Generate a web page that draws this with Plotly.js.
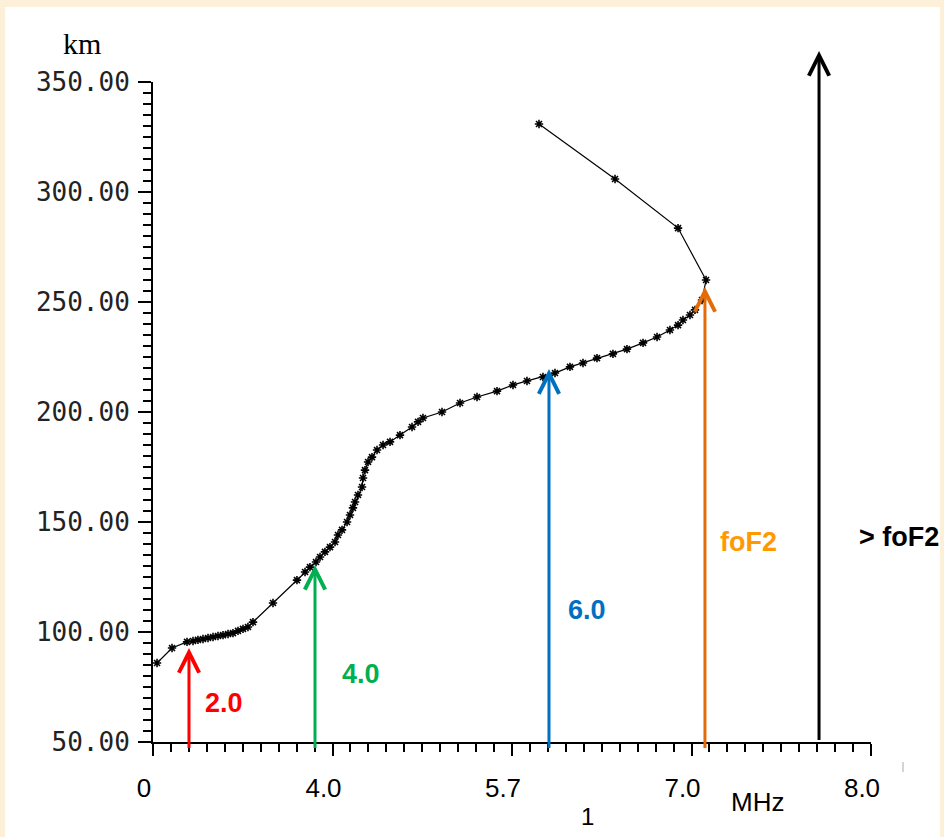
<!DOCTYPE html>
<html>
<head>
<meta charset="utf-8">
<script src="https://cdn.plot.ly/plotly-3.0.1.min.js"></script>
<style>html,body{margin:0;padding:0;background:#fcf0d9;}#chart{width:944px;height:837px;}</style>
</head>
<body>
<div id="chart"></div>
<script>
// Electron density profile (plasma frequency axis units, height in km)
const profileFreq = [0.045,0.212,0.379,0.446,0.501,0.557,0.613,0.669,0.724,0.780,0.836,0.891,0.947,1.003,1.058,1.114,
  1.337,1.604,1.694,1.749,1.816,1.861,1.916,1.972,2.028,2.061,2.106,2.162,2.195,2.228,2.251,2.284,2.329,2.340,2.362,2.396,
  2.440,2.496,2.563,2.641,2.752,2.886,2.953,3.008,3.220,3.421,3.610,3.833,4.011,4.167,4.345,4.479,4.646,4.791,4.947,5.125,
  5.281,5.460,5.616,5.760,5.850,5.905,5.983,6.039,6.117,6.162,5.850,5.148,4.301];
const profileHeight = [85.9,92.7,95.5,95.9,96.4,96.8,97.3,97.7,98.2,98.6,99.1,99.5,100.5,101.4,102.3,104.5,
  113.2,123.6,127.3,129.5,131.8,134.1,136.4,138.6,140.9,144.1,146.4,150.0,153.2,156.4,159.1,162.3,165.9,170.0,173.6,177.3,
  179.5,182.7,185.0,186.4,189.5,193.2,195.5,197.3,200.0,204.1,206.8,209.5,212.3,214.1,215.9,217.7,220.5,222.3,224.5,226.4,
  228.6,231.4,234.1,237.3,239.5,241.8,244.1,246.4,250.9,260.0,283.6,305.9,330.9];

// x-axis tick labels
const xTickVals = [0, 2, 4, 6, 8];
const xTickText = ["0", "4.0", "5.7", "7.0", "8.0"];

// Sounding-frequency arrows
const arrowFreq   = [0.401, 1.805, 4.412, 6.150, 7.421];
const arrowTop    = [92.7, 130.5, 219.5, 256.8, 364.1];
const arrowBottom = [46.4, 46.4, 46.4, 46.4, 50.0];
const arrowLabels = ["2.0", "4.0", "6.0", "foF2", "> foF2"];
const arrowLabelY = [67.7, 80.9, 110.0, 140.9, 143.2];
const arrowColors = ["#ff0000", "#00b050", "#0070c0", "#e36c09", "#000000"];
const labelColors = ["#ff0000", "#00b050", "#0070c0", "#ff9900", "#000000"];
const labelShift  = [14, 25, 17, 13, 38];

const trace = {
  x: profileFreq, y: profileHeight, type: 'scatter', mode: 'lines+markers',
  line: {color: '#000', width: 1.2},
  marker: {symbol: 'asterisk', size: 7, color: '#000', line: {color: '#000', width: 1.6}},
  hoverinfo: 'skip', showlegend: false
};

const annotations = [];
arrowFreq.forEach((f, i) => {
  annotations.push({
    x: f, y: arrowTop[i], xref: 'x', yref: 'y',
    ax: f, ay: arrowBottom[i], axref: 'x', ayref: 'y',
    text: ' ', font: {size: 1}, showarrow: true,
    arrowhead: 5, arrowsize: 1.33, arrowwidth: 3, arrowcolor: arrowColors[i],
    standoff: 0, startstandoff: 0
  });
  annotations.push({
    x: f, y: arrowLabelY[i], xref: 'x', yref: 'y', xanchor: 'left', yanchor: 'middle',
    xshift: labelShift[i], text: '<b>' + arrowLabels[i].replace('>', '&gt;') + '</b>', showarrow: false,
    font: {family: 'Liberation Sans, Arial, sans-serif', size: 27, color: labelColors[i]}
  });
});
annotations.push({xref: 'paper', yref: 'paper', x: -0.099, y: 1.0576, text: 'km', showarrow: false,
  xanchor: 'center', yanchor: 'middle', font: {family: 'Liberation Serif, Times New Roman, serif', size: 30, color: '#000'}});
annotations.push({xref: 'paper', yref: 'paper', x: (757 - 153) / 718, y: (742 - 802) / 660, text: 'MHz', showarrow: false,
  xanchor: 'center', yanchor: 'middle', font: {family: 'Liberation Sans, Arial, sans-serif', size: 26, color: '#000'}});
annotations.push({xref: 'paper', yref: 'paper', x: (587 - 153) / 718, y: (742 - 817) / 660, text: '1', showarrow: false,
  xanchor: 'center', yanchor: 'middle', font: {family: 'Liberation Sans, Arial, sans-serif', size: 24, color: '#000'}});

const layout = {
  width: 944, height: 837,
  margin: {l: 153, r: 73, t: 82, b: 95},
  paper_bgcolor: '#fcf0d9', plot_bgcolor: 'rgba(0,0,0,0)',
  showlegend: false,
  shapes: [
    {type: 'rect', xref: 'paper', yref: 'paper', x0: -0.206, x1: 1.096, y0: -0.2, y1: 1.1136,
     fillcolor: '#ffffff', line: {width: 0}, layer: 'below'},
    {type: 'line', xref: 'paper', yref: 'paper', x0: (903 - 153) / 718, x1: (903 - 153) / 718,
     y0: (742 - 762) / 660, y1: (742 - 772) / 660, line: {color: '#aaaaaa', width: 1}}
  ],
  xaxis: {
    range: [0, 8], tickmode: 'array', tickvals: xTickVals, ticktext: xTickText,
    showgrid: false, zeroline: false, showline: true, linecolor: '#000', linewidth: 2,
    ticks: 'outside', ticklen: 12, tickwidth: 2, tickcolor: '#000',
    ticklabelstandoff: 10, ticklabelshift: -9,
    tickfont: {family: 'Liberation Sans, Arial, sans-serif', size: 26, color: '#000'},
    minor: {dtick: 0.2, ticks: 'outside', ticklen: 8, tickwidth: 2, tickcolor: '#000', showgrid: false}
  },
  yaxis: {
    range: [50, 350], tickmode: 'linear', tick0: 50, dtick: 50, tickformat: '.2f',
    showgrid: false, zeroline: false, showline: true, linecolor: '#000', linewidth: 2,
    ticks: 'outside', ticklen: 13, tickwidth: 2, tickcolor: '#000',
    ticklabelstandoff: 3,
    tickfont: {family: 'DejaVu Sans Mono, monospace', size: 26, color: '#222'},
    minor: {dtick: 5, ticks: 'outside', ticklen: 8, tickwidth: 2, tickcolor: '#000', showgrid: false}
  },
  annotations: annotations
};

Plotly.newPlot('chart', [trace], layout, {displayModeBar: false, staticPlot: true});
</script>
</body>
</html>
